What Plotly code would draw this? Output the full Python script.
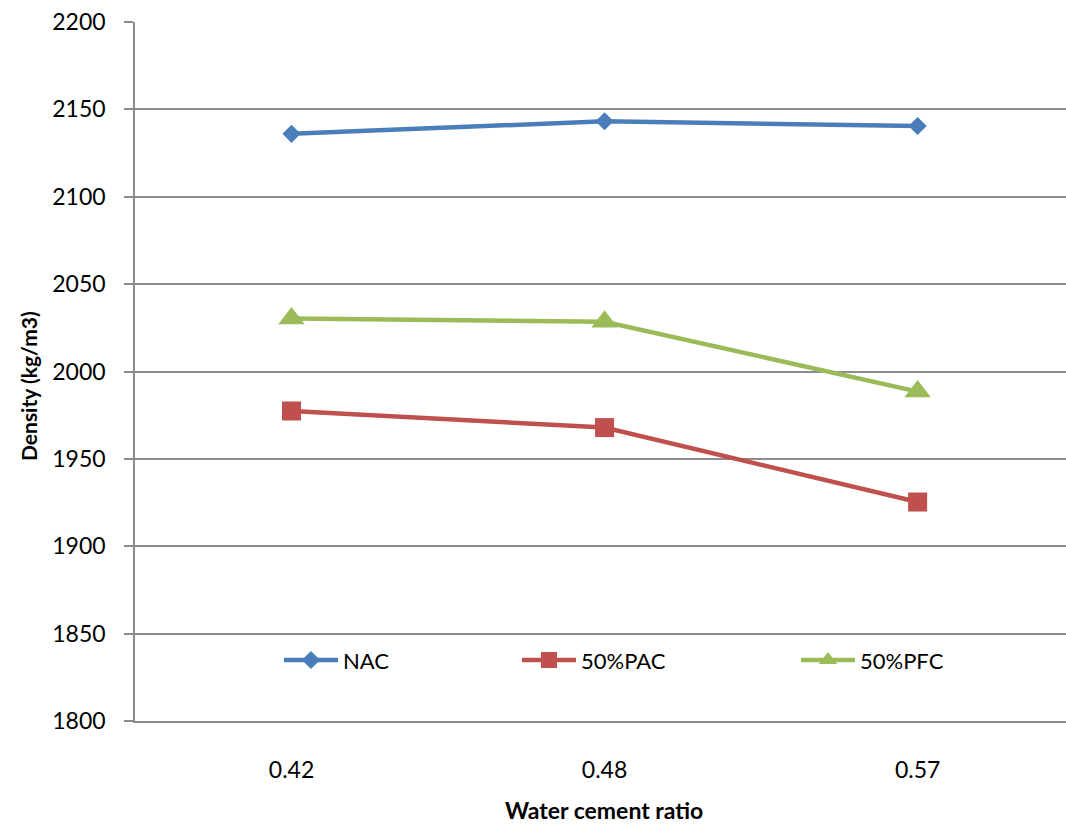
import plotly.graph_objects as go

categories = ["0.42", "0.48", "0.57"]
nac = [2136.0, 2143.2, 2140.5]
pac = [1977.4, 1967.9, 1925.3]
pfc = [2030.4, 2028.5, 1988.5]
y_ticks = [1800, 1850, 1900, 1950, 2000, 2050, 2100, 2150, 2200]

FONT = "Lato"
GRID = "#8c8c8c"

fig = go.Figure()
fig.add_trace(go.Scatter(x=categories, y=nac, name="NAC", mode="lines+markers",
                         line=dict(color="#4a7ebb", width=4.5),
                         marker=dict(symbol="diamond", size=14, color="#4a7ebb"),
                         legend="legend"))
fig.add_trace(go.Scatter(x=categories, y=pac, name="50%PAC", mode="lines+markers",
                         line=dict(color="#c0504d", width=4.5),
                         marker=dict(symbol="square", size=19, color="#c0504d"),
                         legend="legend2"))
fig.add_trace(go.Scatter(x=categories, y=pfc, name="50%PFC", mode="lines+markers",
                         line=dict(color="#9bbb59", width=4.5),
                         marker=dict(symbol="triangle-up", size=23, color="#9bbb59"),
                         legend="legend3"))

leg_common = dict(orientation="h", yanchor="middle", y=0.087, xanchor="left",
                  bgcolor="rgba(0,0,0,0)", font=dict(family=FONT, size=22, color="#000"),
                  itemwidth=54)
fig.update_layout(
    width=1066, height=828,
    margin=dict(l=135, r=0, t=22, b=107),
    paper_bgcolor="white", plot_bgcolor="white",
    font=dict(family=FONT, size=22, color="#000"),
    showlegend=True,
    legend=dict(x=(287 - 135 - 8) / 931, **leg_common),
    legend2=dict(x=(525 - 135 - 8) / 931, **leg_common),
    legend3=dict(x=(804 - 135 - 8) / 931, **leg_common),
    xaxis=dict(type="category", range=[-0.5, 2.474], showgrid=False,
               showline=True, linecolor=GRID, linewidth=1.5,
               ticks="", ticklabelstandoff=28,
               tickfont=dict(family=FONT, size=23)),
    yaxis=dict(range=[1800, 2200], tickvals=y_ticks, showgrid=True,
               gridcolor=GRID, gridwidth=1.5, zeroline=False,
               showline=True, linecolor=GRID, linewidth=1.5,
               ticks="outside", ticklen=9, tickcolor=GRID, tickwidth=1.5,
               ticklabelstandoff=14,
               tickfont=dict(family=FONT, size=23)),
    annotations=[
        dict(text="<b>Water cement ratio</b>", xref="paper", yref="paper",
             x=(604 - 135) / 931, y=-(810 - 721) / 699, xanchor="center", yanchor="middle",
             showarrow=False, font=dict(family=FONT, size=23, color="#000")),
        dict(text="<b>Density (kg/m3)</b>", xref="paper", yref="paper",
             x=-(135 - 28) / 931, y=(721 - 386) / 699, xanchor="center", yanchor="middle",
             textangle=-90, showarrow=False, font=dict(family=FONT, size=21, color="#000")),
    ],
)

fig.write_html("out.html")
